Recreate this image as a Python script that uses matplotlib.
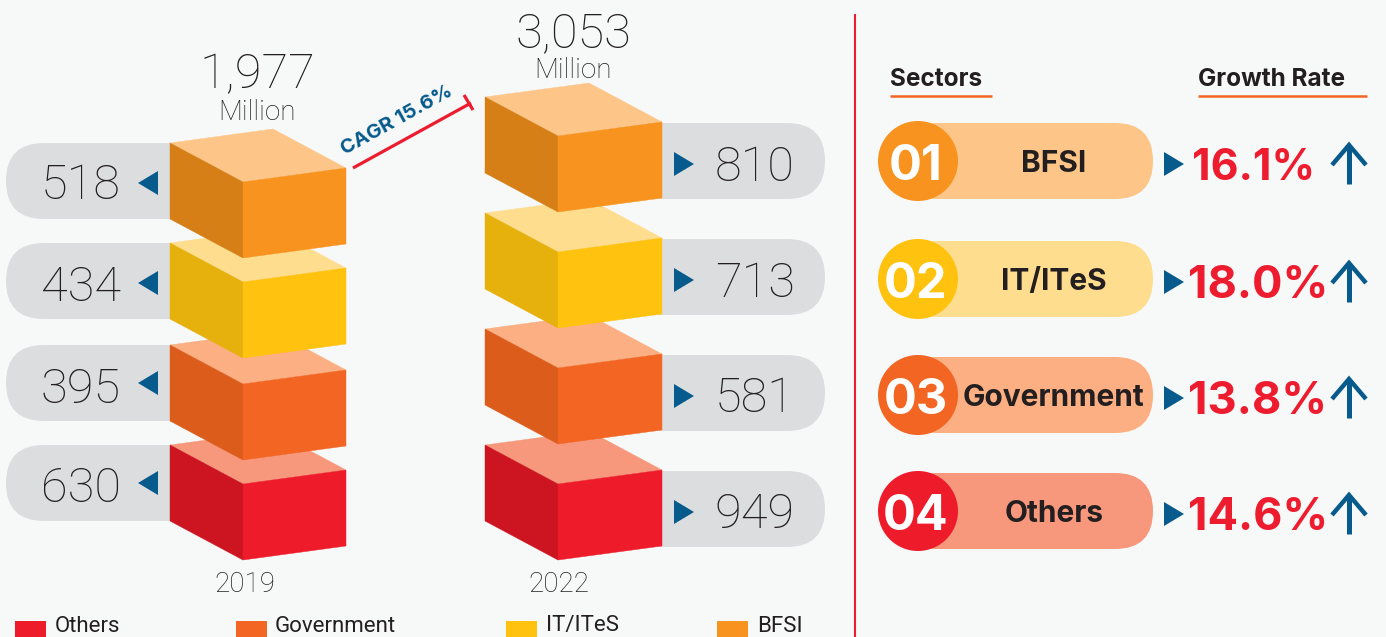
import matplotlib
matplotlib.use('Agg')
import matplotlib.pyplot as plt
from matplotlib.patches import Polygon, Circle, FancyBboxPatch, Rectangle

# data
categories = ['Others', 'Government', 'IT/ITeS', 'BFSI']
values_2019 = [630, 395, 434, 518]
values_2022 = [949, 581, 713, 810]
total_labels = ['1,977', '3,053']
years = ['2019', '2022']
sectors = ['BFSI', 'IT/ITeS', 'Government', 'Others']
growth = ['16.1%', '18.0%', '13.8%', '14.6%']
row_ids = ['01', '02', '03', '04']

# colours: front, left side, top
cols = {
    'Others': ('#EE1C2B', '#CC1520', '#F7977C'),
    'Government': ('#F26522', '#DC5C1C', '#FCAF82'),
    'IT/ITeS': ('#FFC20E', '#E6B00D', '#FFDD8F'),
    'BFSI': ('#F7931E', '#D67F17', '#FDC688'),
}
BLUE = '#065A8C'
RED = '#ED1C2E'
DARK = '#231F20'
GREY = '#DCDDDF'
BG = '#F7F8F8'

LIGHT = 'Roboto'
BOLD = 'Inter'

fig = plt.figure(figsize=(13.86, 6.37), dpi=100, facecolor=BG)
ax = fig.add_axes([0, 0, 1, 1])
ax.set_xlim(0, 1386)
ax.set_ylim(637, 0)
ax.axis('off')


def pill(x0, x1, y0, y1, color, z=1):
    r = (y1 - y0) / 2
    ax.add_patch(FancyBboxPatch((x0 + r, y0 + r), x1 - x0 - 2 * r, 0,
                                boxstyle='round,pad=%f,rounding_size=%f' % (r, r),
                                fc=color, ec='none', zorder=z))


def cube(x, y, w_left, w_right, dy_front, dy_back, h, name, z):
    front, side, top = cols[name]
    xf = x + w_left
    xr = xf + w_right
    yf = y + dy_front
    yr = yf - dy_back
    ax.add_patch(Polygon([(x, y), (xr - w_left, y - dy_back), (xr, yr), (xf, yf)],
                         fc=top, ec=top, lw=0.3, zorder=z))
    ax.add_patch(Polygon([(x, y), (xf, yf), (xf, yf + h), (x, y + h)], fc=side, ec=side, lw=0.3, zorder=z))
    ax.add_patch(Polygon([(xf, yf), (xr, yr), (xr, yr + h), (xf, yf + h)], fc=front, ec=front, lw=0.3, zorder=z))


def tri(x_tip, x_base, yc, half=12):
    ax.add_patch(Polygon([(x_tip, yc), (x_base, yc - half), (x_base, yc + half)], fc=BLUE, ec='none', zorder=5))


# 2019 column, bottom to top so upper cubes overlap
left_y = [445, 345, 243, 143]
left_base = [502, 403, 301, 199]
left_tri = [483, 383, 283, 183]
for i, name in enumerate(categories):
    y = left_y[i]
    pill(6, 230, y, y + 76, GREY)
    ax.text(81, left_base[i], str(values_2019[i]), family=LIGHT, weight='light', fontsize=35,
            color=DARK, ha='center', va='baseline', zorder=6)
    tri(138, 158, left_tri[i])
    cube(170, y, 73, 103, 39, 14, 76, name, 10 + i)

# 2022 column
right_y = [445, 329, 213, 97]
right_base = [528, 412, 297, 181]
right_tri = [512, 396, 280, 164]
for i, name in enumerate(categories):
    y = right_y[i]
    pill(600, 825, y + 26, y + 102, GREY)
    ax.text(755, right_base[i], str(values_2022[i]), family=LIGHT, weight='light', fontsize=35,
            color=DARK, ha='center', va='baseline', zorder=6)
    tri(694, 674, right_tri[i])
    cube(485, y, 73, 104, 39, 14, 76, name, 10 + i)

# totals
for x, base, mbase, lab in zip([257, 573], [88, 47], [120, 78], total_labels):
    ax.text(x, base, lab, family=LIGHT, weight='light', fontsize=35, color=DARK, ha='center', va='baseline')
    ax.text(x, mbase, 'Million', family=LIGHT, weight='light', fontsize=20, color=DARK, ha='center', va='baseline')

for x, yr in zip([245, 559], years):
    ax.text(x, 592, yr, family=LIGHT, weight='light', fontsize=20, color=DARK, ha='center', va='baseline')

# CAGR connector
ax.plot([353, 471], [168, 103], color=RED, lw=2.3, solid_capstyle='butt', zorder=4)
ax.plot([464, 473], [95, 110], color=RED, lw=2.3, solid_capstyle='butt', zorder=4)
ax.text(397, 120, 'CAGR 15.6%', family=BOLD, weight='bold', fontsize=14.5, color=BLUE, rotation=29,
        rotation_mode='anchor', ha='center', va='center', zorder=4)

# legend
for x, tx, name in zip([15, 236, 506, 717], [55, 275, 546, 757], categories):
    ax.add_patch(Rectangle((x, 621), 31, 20, fc=cols[name][0], ec='none'))
    ax.text(tx, 636.5, name, family=LIGHT, fontsize=16, color=DARK, ha='left', va='bottom')

# divider
ax.plot([855, 855], [14, 637], color=RED, lw=1.5, solid_capstyle='butt')

# right panel headers
ax.text(890, 86, 'Sectors', family=BOLD, weight='bold', fontsize=17.5, color=DARK, ha='left', va='baseline')
ax.text(1198, 86, 'Growth Rate', family=BOLD, weight='bold', fontsize=17.5, color=DARK, ha='left', va='baseline')
ax.plot([890, 992], [95.5, 95.5], color='#F26522', lw=1.8, solid_capstyle='butt')
ax.plot([1198, 1367], [95.5, 95.5], color='#F26522', lw=1.8, solid_capstyle='butt')

# right panel rows
row_top = [123, 241, 357, 473]
growth_x = [1254, 1258, 1258, 1258]
growth_size = [31, 32.5, 32.5, 32.5]
for i, name in enumerate(sectors):
    y = row_top[i]
    yc = y + 38
    pill(900, 1153, y, y + 76, cols[name][2], z=2)
    ax.add_patch(Circle((918, yc), 40, fc=cols[name][0], ec='none', zorder=3))
    ax.text(916, yc + 19, row_ids[i], family=BOLD, weight='bold', fontsize=35, color='white',
            ha='center', va='baseline', zorder=4)
    ax.text(1054, yc + 11, name, family=BOLD, weight='bold', fontsize=21.5, color=DARK,
            ha='center', va='baseline', zorder=4)
    tri(1184, 1164, yc + 3)
    ax.text(growth_x[i], yc + 19, growth[i], family=BOLD, weight='bold', fontsize=growth_size[i], color=RED,
            ha='center', va='baseline', zorder=4)
    ax.plot([1349, 1349], [yc + 23, yc - 16], color=BLUE, lw=3.6, solid_capstyle='butt', zorder=4)
    ax.plot([1332, 1349, 1366], [yc + 4, yc - 16, yc + 4], color=BLUE, lw=3.2,
            solid_capstyle='butt', solid_joinstyle='miter', zorder=4)

fig.savefig('out.png', dpi=100, facecolor=BG)
